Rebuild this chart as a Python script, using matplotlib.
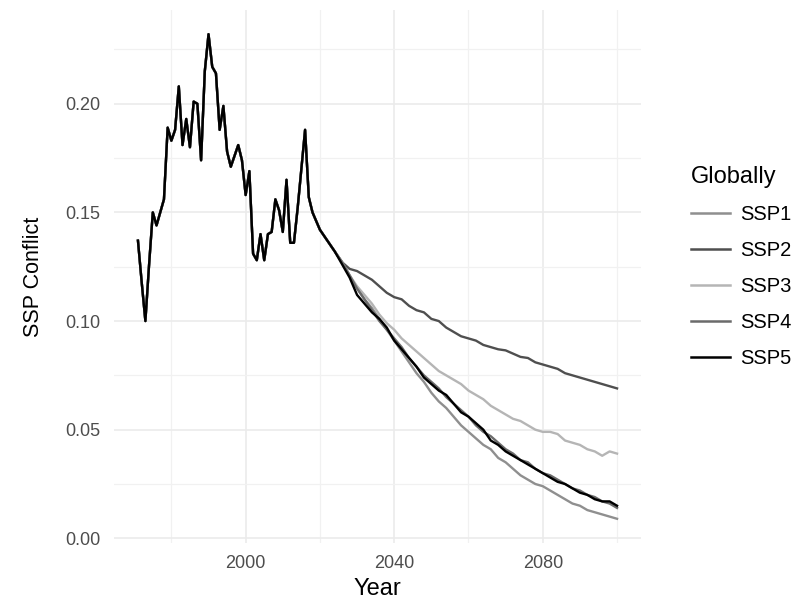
import matplotlib
matplotlib.use("Agg")
import matplotlib.pyplot as plt
from matplotlib.ticker import MultipleLocator
from matplotlib.lines import Line2D

plt.rcParams['font.family'] = ['Liberation Sans', 'DejaVu Sans']

# ---------------- data ----------------
hist_years = list(range(1971, 2019))
hist_values = [0.137, 0.118, 0.100, 0.126, 0.150, 0.144, 0.150, 0.156, 0.189, 0.183,
               0.188, 0.208, 0.181, 0.193, 0.180, 0.201, 0.200, 0.174, 0.215, 0.232,
               0.217, 0.214, 0.188, 0.199, 0.178, 0.171, 0.176, 0.181, 0.174, 0.158,
               0.169, 0.131, 0.128, 0.140, 0.128, 0.140, 0.141, 0.156, 0.151, 0.141,
               0.165, 0.136, 0.136, 0.152, 0.170, 0.188, 0.157, 0.150]

proj_years = list(range(2020, 2101, 2))
ssp1 = [0.142, 0.137, 0.132, 0.127, 0.121, 0.115, 0.110, 0.106, 0.101, 0.096,
        0.091, 0.086, 0.081, 0.076, 0.072, 0.067, 0.063, 0.060, 0.056, 0.052,
        0.049, 0.046, 0.043, 0.041, 0.037, 0.035, 0.032, 0.029, 0.027, 0.025,
        0.024, 0.022, 0.020, 0.018, 0.016, 0.015, 0.013, 0.012, 0.011, 0.010, 0.009]
ssp2 = [0.142, 0.137, 0.132, 0.127, 0.124, 0.123, 0.121, 0.119, 0.116, 0.113,
        0.111, 0.110, 0.107, 0.105, 0.104, 0.101, 0.100, 0.097, 0.095, 0.093,
        0.092, 0.091, 0.089, 0.088, 0.087, 0.0865, 0.085, 0.0835, 0.083, 0.081,
        0.080, 0.079, 0.078, 0.076, 0.075, 0.074, 0.073, 0.072, 0.071, 0.070, 0.069]
ssp3 = [0.142, 0.137, 0.132, 0.127, 0.121, 0.116, 0.112, 0.108, 0.103, 0.099,
        0.096, 0.092, 0.089, 0.086, 0.083, 0.080, 0.077, 0.075, 0.073, 0.071,
        0.068, 0.066, 0.064, 0.061, 0.059, 0.057, 0.055, 0.054, 0.052, 0.050,
        0.049, 0.049, 0.048, 0.045, 0.044, 0.043, 0.041, 0.040, 0.038, 0.040, 0.039]
ssp4 = [0.142, 0.137, 0.132, 0.127, 0.121, 0.115, 0.110, 0.105, 0.100, 0.096,
        0.092, 0.088, 0.083, 0.079, 0.075, 0.072, 0.069, 0.065, 0.062, 0.059,
        0.056, 0.052, 0.049, 0.047, 0.044, 0.041, 0.039, 0.036, 0.035, 0.032,
        0.030, 0.029, 0.027, 0.025, 0.023, 0.022, 0.020, 0.019, 0.017, 0.016, 0.014]
ssp5 = [0.142, 0.137, 0.132, 0.126, 0.120, 0.112, 0.108, 0.104, 0.101, 0.097,
        0.091, 0.087, 0.083, 0.079, 0.074, 0.071, 0.068, 0.066, 0.062, 0.058,
        0.056, 0.053, 0.050, 0.045, 0.043, 0.040, 0.038, 0.036, 0.034, 0.032,
        0.030, 0.028, 0.026, 0.025, 0.023, 0.021, 0.020, 0.018, 0.017, 0.017, 0.015]

series_names = ["SSP1", "SSP2", "SSP3", "SSP4", "SSP5"]
series_values = [ssp1, ssp2, ssp3, ssp4, ssp5]
series_colors = ["#8f8f8f", "#4f4f4f", "#b5b5b5", "#6b6b6b", "#000000"]

x_ticks = [2000, 2040, 2080]
y_ticks = [0.00, 0.05, 0.10, 0.15, 0.20]

# ---------------- figure ----------------
W, H = 805, 599
fig = plt.figure(figsize=(W / 100, H / 100), dpi=100)
left, right, top, bottom = 114, 641, 10, 543
ax = fig.add_axes([left / W, 1 - bottom / H, (right - left) / W, (bottom - top) / H])

for name, vals, col in zip(series_names, series_values, series_colors):
    xs = hist_years + proj_years
    ys = hist_values + vals
    ax.plot(xs, ys, color=col, lw=1.7, solid_joinstyle='round', zorder=3)

# ggplot-like 5% expansion
all_x = hist_years + proj_years
all_y = hist_values + [v for s in series_values for v in s]
xr = max(all_x) - min(all_x)
yr = max(all_y) - min(all_y)
ax.set_xlim(min(all_x) - 0.05 * xr, max(all_x) + 0.05 * xr)
ax.set_ylim(min(all_y) - 0.05 * yr, max(all_y) + 0.05 * yr)

ax.set_xticks(x_ticks)
ax.set_yticks(y_ticks)
ax.set_yticklabels([f"{v:.2f}" for v in y_ticks])
ax.xaxis.set_minor_locator(MultipleLocator(20))
ax.yaxis.set_minor_locator(MultipleLocator(0.025))

ax.grid(True, which='major', color='#ebebeb', lw=1.2, zorder=0)
ax.grid(True, which='minor', color='#f1f1f1', lw=0.9, zorder=0)
ax.set_axisbelow(True)
for sp in ax.spines.values():
    sp.set_visible(False)
ax.tick_params(which='both', length=0)
ax.tick_params(axis='both', labelsize=13, labelcolor='#4d4d4d')
ax.tick_params(axis='x', pad=9)
ax.tick_params(axis='y', pad=10)

ax.set_xlabel("Year", fontsize=17, labelpad=4)
ax.set_ylabel("SSP Conflict", fontsize=15.5, labelpad=15)

handles = [Line2D([0], [0], color=c, lw=1.8) for c in series_colors]
leg = fig.legend(handles, series_names, title="Globally", loc='center left',
                 bbox_to_anchor=(673 / W, 1 - 267 / H), frameon=False,
                 fontsize=14.5, title_fontsize=17, handlelength=1.95,
                 handletextpad=0.5, labelspacing=0.85, alignment='left')

fig.savefig("out.png", dpi=100)
